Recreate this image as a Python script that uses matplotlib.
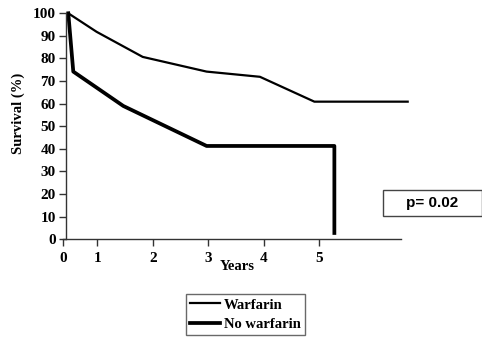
import matplotlib

matplotlib.use("Agg")

import matplotlib.pyplot as plt
from matplotlib.patches import Rectangle

# values (x in the chart's own year units)
warfarin_years = [0.48, 0.99, 1.82, 2.97, 3.93, 4.91, 6.59]
warfarin_surv = [100, 91.8, 80.7, 74.2, 71.9, 60.9, 60.9]
nowarf_years = [0.48, 0.57, 1.47, 2.97, 5.27, 5.27]
nowarf_surv = [100, 74.2, 59.0, 41.3, 41.3, 2.8]

xtick_pos = [0.39, 1, 2, 3, 4, 5]
xtick_labels = ["0", "1", "2", "3", "4", "5"]
ytick_pos = list(range(0, 101, 10))
p_text = "p= 0.02"

serif = ["Liberation Serif", "DejaVu Serif"]
sans = ["Liberation Sans", "DejaVu Sans"]

fig = plt.figure(figsize=(4.82, 3.39), dpi=100, facecolor="white")
ax = fig.add_axes([0.1313, 0.2941, 0.832 - 0.1313, 0.9608 - 0.2941])

l1, = ax.plot(warfarin_years, warfarin_surv, color="black", lw=1.6, clip_on=False, label="Warfarin")
l2, = ax.plot(nowarf_years, nowarf_surv, color="black", lw=2.7, clip_on=False, label="No warfarin")

ax.set_xlim(0.39, 6.47)
ax.set_ylim(0, 100)
ax.spines["top"].set_visible(False)
ax.spines["right"].set_visible(False)
ax.spines["left"].set_position(("data", 0.43))
for s in ("left", "bottom"):
    ax.spines[s].set_color("#333333")
    ax.spines[s].set_linewidth(1.0)

ax.set_xticks(xtick_pos)
ax.set_xticklabels(xtick_labels)
ax.set_yticks(ytick_pos)
ax.tick_params(axis="both", direction="out", length=5, width=1.0, color="#333333")
ax.tick_params(axis="x", pad=4)
ax.tick_params(axis="y", pad=2)
for lab in ax.get_xticklabels() + ax.get_yticklabels():
    lab.set_fontfamily(serif)
    lab.set_fontweight("bold")
    lab.set_fontsize(11)

fig.text(237 / 482, 1 - 267 / 339, "Years", ha="center", va="center",
         family=serif, fontweight="bold", fontsize=10.5)
fig.text(18 / 482, 1 - 113 / 339, "Survival (%)", ha="center", va="center", rotation=90,
         family=serif, fontweight="bold", fontsize=10.5)

# p-value box
fig.patches.append(Rectangle((383 / 482, 1 - 216 / 339), 98.5 / 482, 26 / 339,
                             transform=fig.transFigure, fill=False, edgecolor="#444444", lw=1.0))
fig.text(432 / 482, 1 - 203 / 339, p_text, ha="center", va="center",
         family=sans, fontweight="bold", fontsize=11)

leg = fig.legend(handles=[l1, l2], loc="upper left", bbox_to_anchor=(186 / 482, 1 - 294 / 339),
                 frameon=True, fancybox=False, shadow=False, borderpad=0.3, handlelength=2.0,
                 handletextpad=0.3, labelspacing=0.4, borderaxespad=0,
                 prop={"family": serif, "weight": "bold", "size": 10.5})
leg.get_frame().set_edgecolor("#444444")
leg.get_frame().set_linewidth(1.0)

fig.savefig("out.png", dpi=100)
